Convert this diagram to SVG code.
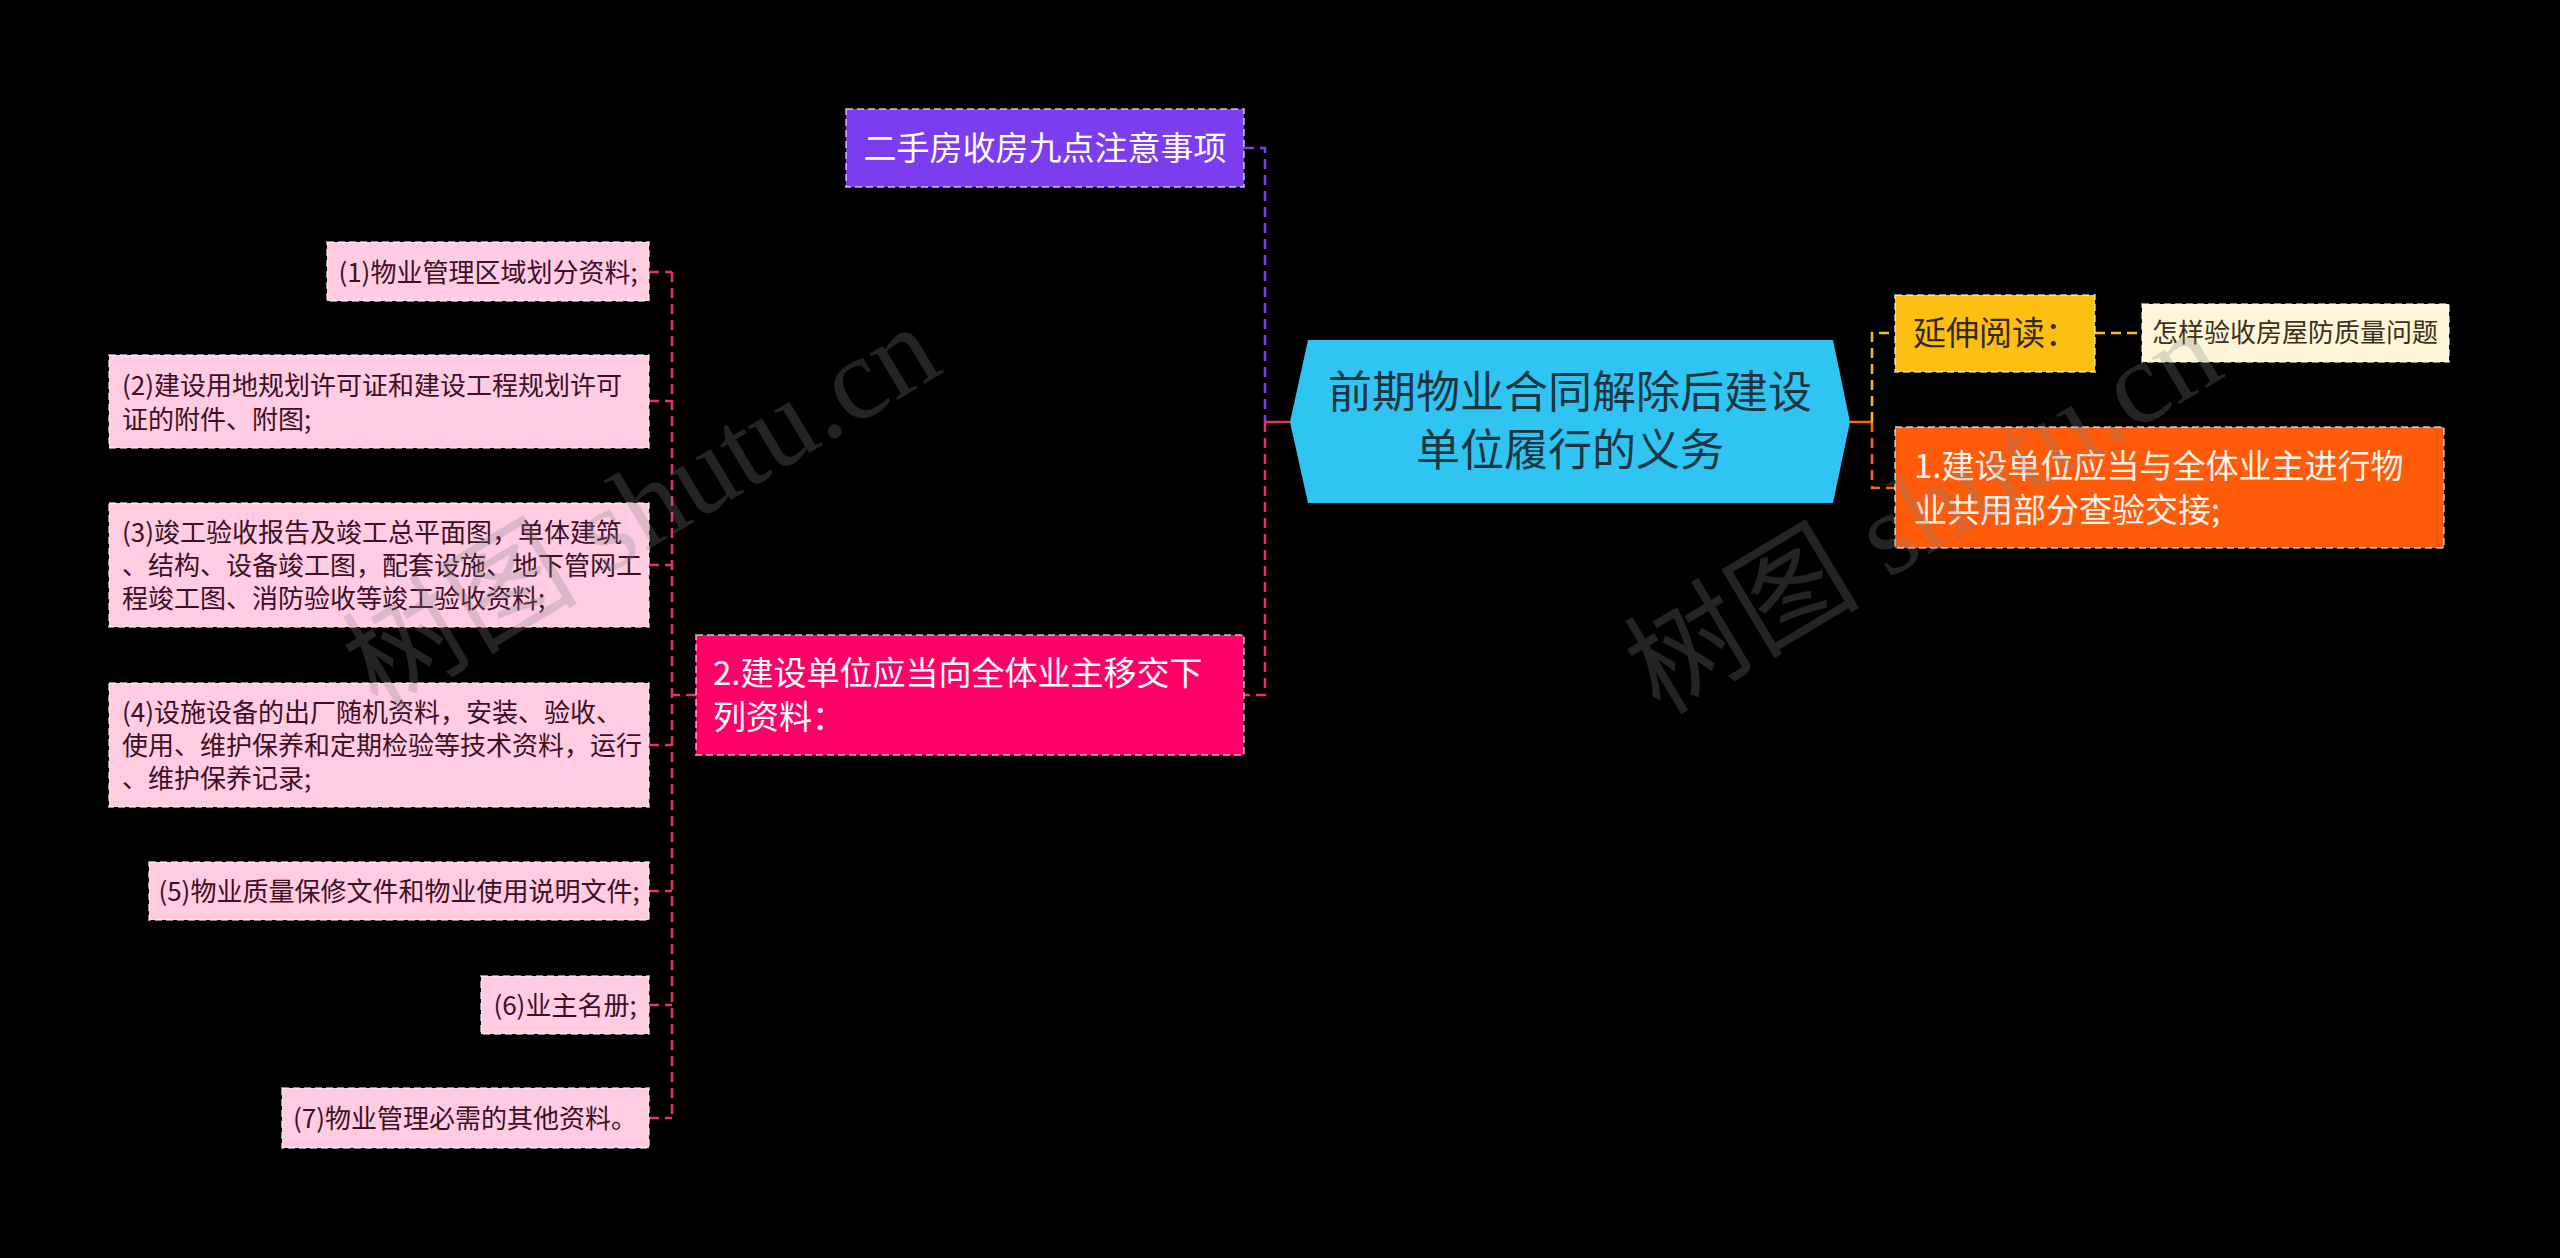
<svg xmlns="http://www.w3.org/2000/svg" width="2560" height="1258" viewBox="0 0 2560 1258">
<style>
text{font-family:"Noto Sans CJK SC","Noto Sans",sans-serif;}
.box{stroke:#ffffff;stroke-opacity:0.55;stroke-width:2;stroke-dasharray:7 4;}
.lp{fill:#FFCCE2;}
.lpt{fill:#3d0f24;font-size:26px;}
.c{fill:none;stroke-width:2.5;stroke-dasharray:10 6;}
.wm{font-family:"Liberation Serif","Noto Sans CJK SC",serif;font-size:118px;fill:#808080;fill-opacity:0.28;}
</style>
<rect width="2560" height="1258" fill="#000"/>
<g id="connectors">
  <line x1="1290" y1="422" x2="1265" y2="422" stroke="#E8306F" stroke-width="2.5"/>
  <polyline class="c" stroke="#7C3DEE" points="1244,148 1265,148 1265,422"/>
  <polyline class="c" stroke="#E8306F" points="1265,422 1265,695 1244,695"/>
  <line x1="1850" y1="422" x2="1872" y2="422" stroke="#FF6418" stroke-width="2.5"/>
  <polyline class="c" stroke="#FDBF12" points="1872,422 1872,333 1895,333"/>
  <polyline class="c" stroke="#FF6418" points="1872,422 1872,488 1895,488"/>
  <line class="c" stroke="#FDBF12" x1="2095" y1="333" x2="2142" y2="333"/>
  <line class="c" stroke="#E8306F" x1="696" y1="695" x2="672" y2="695"/>
  <line class="c" stroke="#E8306F" x1="672" y1="272" x2="672" y2="1118"/>
  <line class="c" stroke="#E8306F" x1="649" y1="272" x2="672" y2="272"/>
  <line class="c" stroke="#E8306F" x1="649" y1="401" x2="672" y2="401"/>
  <line class="c" stroke="#E8306F" x1="649" y1="565" x2="672" y2="565"/>
  <line class="c" stroke="#E8306F" x1="649" y1="745" x2="672" y2="745"/>
  <line class="c" stroke="#E8306F" x1="649" y1="891" x2="672" y2="891"/>
  <line class="c" stroke="#E8306F" x1="649" y1="1005" x2="672" y2="1005"/>
  <line class="c" stroke="#E8306F" x1="649" y1="1118" x2="672" y2="1118"/>
</g>
<g id="root">
  <polygon points="1290,422 1308,340 1833,340 1850,422 1833,503 1308,503" fill="#2FC4F2"/>
  <text x="1570" y="408" text-anchor="middle" font-size="44" fill="#1c3640">前期物业合同解除后建设</text>
  <text x="1570" y="466" text-anchor="middle" font-size="44" fill="#1c3640">单位履行的义务</text>
</g>
<g id="n-purple">
  <rect class="box" x="846" y="109" width="398" height="78" fill="#7C3DEE"/>
  <text x="1045" y="160" text-anchor="middle" font-size="33" fill="#fff">二手房收房九点注意事项</text>
</g>
<g id="n-yellow">
  <rect class="box" x="1895" y="295" width="200" height="77" fill="#FDBF12"/>
  <text x="1913" y="345" font-size="33" fill="#33290a">延伸阅读：</text>
</g>
<g id="n-cream">
  <rect class="box" x="2142" y="304" width="307" height="58" fill="#FFF6D9"/>
  <text x="2295" y="342" text-anchor="middle" font-size="26" fill="#3a3020">怎样验收房屋防质量问题</text>
</g>
<g id="n-orange">
  <rect class="box" x="1895" y="427" width="549" height="121" fill="#FF5B0B"/>
  <text x="1914" y="478" font-size="33" fill="#FFF3EA">1.建设单位应当与全体业主进行物</text>
  <text x="1914" y="522" font-size="33" fill="#FFF3EA">业共用部分查验交接;</text>
</g>
<g id="n-pink">
  <rect class="box" x="696" y="635" width="548" height="120" fill="#FF0069"/>
  <text x="713" y="685" font-size="33" fill="#fff">2.建设单位应当向全体业主移交下</text>
  <text x="713" y="729" font-size="33" fill="#fff">列资料：</text>
</g>
<g id="c1">
  <rect class="box lp" x="327" y="242" width="322" height="59"/>
  <text class="lpt" x="488" y="282" text-anchor="middle">(1)物业管理区域划分资料;</text>
</g>
<g id="c2">
  <rect class="box lp" x="109" y="355" width="540" height="93"/>
  <text class="lpt" x="122" y="395">(2)建设用地规划许可证和建设工程规划许可</text>
  <text class="lpt" x="122" y="429">证的附件、附图;</text>
</g>
<g id="c3">
  <rect class="box lp" x="109" y="503" width="540" height="124"/>
  <text class="lpt" x="122" y="542">(3)竣工验收报告及竣工总平面图，单体建筑</text>
  <text class="lpt" x="122" y="575">、结构、设备竣工图，配套设施、地下管网工</text>
  <text class="lpt" x="122" y="608">程竣工图、消防验收等竣工验收资料;</text>
</g>
<g id="c4">
  <rect class="box lp" x="109" y="683" width="540" height="124"/>
  <text class="lpt" x="122" y="722">(4)设施设备的出厂随机资料，安装、验收、</text>
  <text class="lpt" x="122" y="755">使用、维护保养和定期检验等技术资料，运行</text>
  <text class="lpt" x="122" y="788">、维护保养记录;</text>
</g>
<g id="c5">
  <rect class="box lp" x="149" y="862" width="500" height="58"/>
  <text class="lpt" x="399" y="901" text-anchor="middle">(5)物业质量保修文件和物业使用说明文件;</text>
</g>
<g id="c6">
  <rect class="box lp" x="481" y="976" width="168" height="58"/>
  <text class="lpt" x="565" y="1015" text-anchor="middle">(6)业主名册;</text>
</g>
<g id="c7">
  <rect class="box lp" x="282" y="1088" width="367" height="60"/>
  <text class="lpt" x="465" y="1128" text-anchor="middle">(7)物业管理必需的其他资料。</text>
</g>
<g id="watermarks">
  <text class="wm" transform="translate(378,712) rotate(-31)">树图 shutu.cn</text>
  <text class="wm" transform="translate(1660,716) rotate(-31)">树图 shutu.cn</text>
</g>
</svg>
